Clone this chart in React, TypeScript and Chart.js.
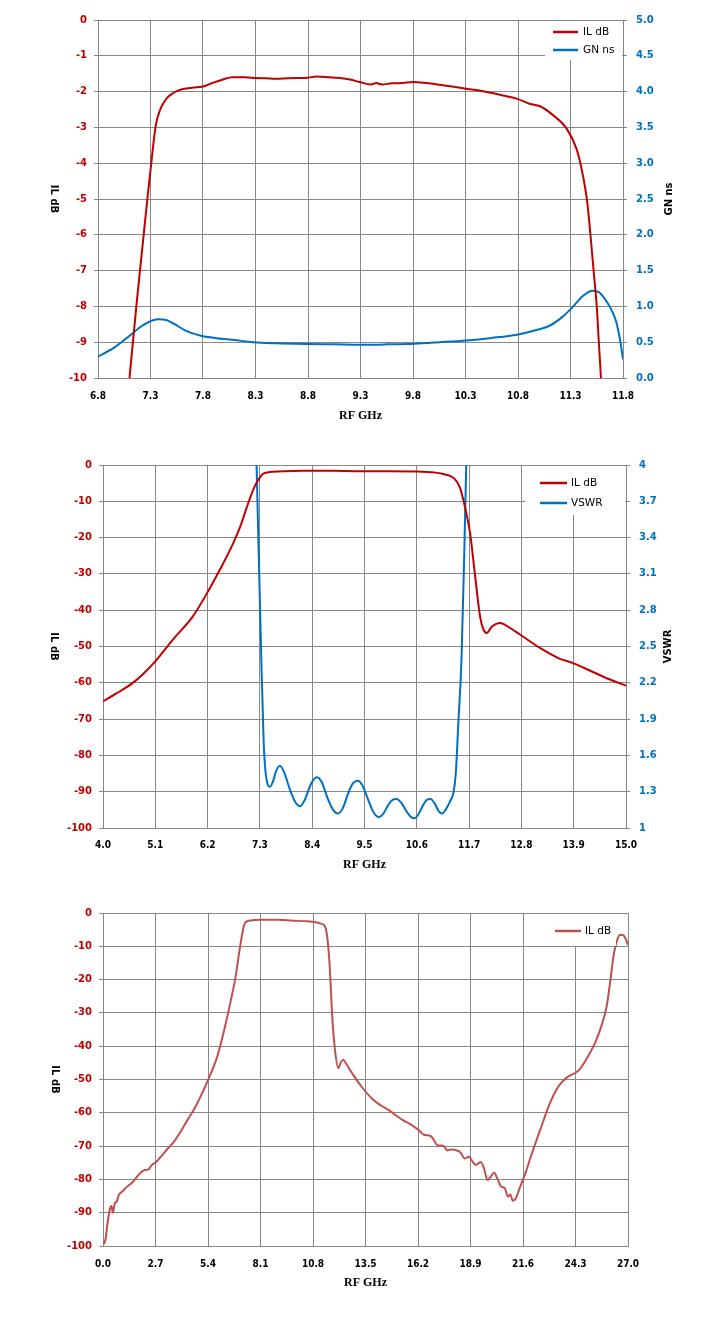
import React, { useEffect, useRef } from 'react';
import { Chart, ChartConfiguration, Plugin, registerables } from 'chart.js';
Chart.register(...registerables);

// ---- chart 1: passband IL and group delay ----
const il1Freq = [7.1, 7.165, 7.235, 7.27, 7.3, 7.322, 7.34, 7.357, 7.375, 7.4, 7.43, 7.46, 7.5, 7.54, 7.61, 7.7, 7.8, 7.89, 7.99, 8.08, 8.2, 8.3, 8.4, 8.5, 8.6, 8.7, 8.8, 8.88, 9.0, 9.1, 9.2, 9.29, 9.4, 9.45, 9.5, 9.6, 9.7, 9.8, 9.9, 10.0, 10.1, 10.2, 10.3, 10.43, 10.63, 10.8, 10.91, 11.01, 11.13, 11.26, 11.36, 11.42, 11.46, 11.49, 11.52, 11.55, 11.57, 11.59];
const il1Db = [-10, -8, -6, -5, -4.2, -3.6, -3.15, -2.85, -2.65, -2.45, -2.29, -2.17, -2.07, -2.0, -1.93, -1.89, -1.86, -1.76, -1.66, -1.6, -1.6, -1.62, -1.63, -1.64, -1.63, -1.62, -1.61, -1.58, -1.6, -1.62, -1.66, -1.73, -1.8, -1.76, -1.8, -1.77, -1.76, -1.73, -1.75, -1.79, -1.83, -1.87, -1.92, -1.97, -2.09, -2.21, -2.34, -2.41, -2.65, -3.02, -3.62, -4.37, -5.1, -6.0, -7.0, -8.0, -9.0, -10];
const gn1Freq = [6.8, 6.95, 7.11, 7.22, 7.37, 7.45, 7.52, 7.65, 7.78, 7.91, 8.1, 8.28, 8.5, 8.79, 9.05, 9.31, 9.55, 9.81, 10.05, 10.31, 10.55, 10.79, 10.95, 11.1, 11.22, 11.32, 11.42, 11.51, 11.57, 11.62, 11.68, 11.73, 11.77, 11.8];
const gn1Ns = [0.3, 0.42, 0.6, 0.73, 0.82, 0.81, 0.76, 0.65, 0.59, 0.56, 0.53, 0.5, 0.485, 0.475, 0.47, 0.465, 0.47, 0.48, 0.5, 0.525, 0.56, 0.605, 0.66, 0.73, 0.85, 0.99, 1.15, 1.22, 1.2, 1.12, 0.98, 0.81, 0.55, 0.26];

// ---- chart 2: IL and VSWR 4-15 GHz ----
const il2Freq = [4.0, 4.3, 4.62, 4.85, 5.1, 5.47, 5.89, 6.21, 6.46, 6.74, 6.9, 7.02, 7.19, 7.3, 7.37, 7.48, 7.58, 7.8, 8.2, 8.8, 9.3, 9.8, 10.6, 11.0, 11.16, 11.3, 11.4, 11.51, 11.61, 11.72, 11.82, 11.93, 12.0, 12.07, 12.18, 12.35, 12.55, 12.77, 13.19, 13.61, 13.87, 14.35, 14.7, 15.0];
const il2Db = [-65.1, -62.8, -60.1, -57.5, -54.1, -48.1, -41.7, -34.8, -28.8, -21.5, -16.5, -11.8, -5.9, -3.4, -2.4, -2.0, -1.85, -1.7, -1.6, -1.6, -1.7, -1.75, -1.8, -2.1, -2.5, -3.0, -3.9, -6.3, -11.4, -18.7, -29.8, -41.7, -45.3, -46.3, -44.5, -43.5, -44.8, -46.7, -50.4, -53.4, -54.5, -57.3, -59.3, -60.8];
const vswrFreq = [7.2, 7.23, 7.33, 7.38, 7.41, 7.45, 7.51, 7.57, 7.64, 7.72, 7.8, 7.93, 8.05, 8.14, 8.24, 8.37, 8.49, 8.6, 8.72, 8.84, 8.94, 9.04, 9.16, 9.26, 9.36, 9.46, 9.58, 9.69, 9.8, 9.9, 10.0, 10.08, 10.17, 10.27, 10.38, 10.48, 10.55, 10.63, 10.72, 10.8, 10.89, 10.98, 11.06, 11.13, 11.22, 11.3, 11.37, 11.42, 11.47, 11.54, 11.6, 11.64, 11.68];
const vswrVal = [4.5, 4.0, 2.39, 1.7, 1.5, 1.38, 1.34, 1.38, 1.47, 1.515, 1.47, 1.32, 1.21, 1.18, 1.23, 1.36, 1.42, 1.38, 1.25, 1.15, 1.12, 1.16, 1.29, 1.37, 1.39, 1.35, 1.23, 1.13, 1.09, 1.12, 1.19, 1.23, 1.24, 1.21, 1.14, 1.09, 1.08, 1.11, 1.18, 1.23, 1.24, 1.2, 1.14, 1.12, 1.16, 1.22, 1.29, 1.45, 1.84, 2.39, 3.3, 4.0, 4.5];

// ---- chart 3: IL wideband 0-27 GHz ----
const il3Freq = [0.04, 0.14, 0.21, 0.34, 0.43, 0.51, 0.6, 0.72, 0.81, 1.0, 1.2, 1.54, 1.89, 2.15, 2.35, 2.49, 2.75, 3.0, 3.26, 3.64, 4.0, 4.34, 4.7, 4.93, 5.4, 5.87, 6.23, 6.58, 6.82, 7.05, 7.29, 7.52, 8.11, 9.0, 9.76, 10.5, 10.94, 11.2, 11.36, 11.45, 11.53, 11.65, 11.79, 11.93, 12.11, 12.22, 12.35, 12.5, 12.7, 13.29, 13.88, 14.3, 14.7, 15.0, 15.42, 15.8, 16.24, 16.5, 16.83, 17.0, 17.18, 17.5, 17.7, 17.89, 18.24, 18.4, 18.59, 18.83, 19.0, 19.18, 19.3, 19.42, 19.6, 19.77, 19.9, 20.12, 20.3, 20.48, 20.65, 20.83, 20.95, 21.07, 21.25, 21.42, 21.72, 22.0, 22.48, 22.96, 23.3, 23.6, 23.9, 24.48, 24.9, 25.3, 25.6, 25.9, 26.1, 26.25, 26.45, 26.6, 26.77, 26.9, 27.0];
const il3Db = [-99.5, -97.7, -94.2, -89.2, -88.0, -90.0, -87.3, -86.5, -84.7, -83.6, -82.4, -80.7, -78.2, -77.2, -77.0, -75.8, -74.7, -73.0, -71.2, -68.7, -65.6, -62.2, -58.8, -56.2, -50.2, -43.2, -35.2, -26.1, -19.1, -10.1, -3.1, -2.3, -2.0, -2.05, -2.3, -2.5, -2.8, -3.2, -3.6, -4.6, -7.1, -15.1, -31.1, -41.1, -46.6, -45.0, -44.1, -45.2, -47.1, -52.1, -56.0, -57.8, -59.2, -60.5, -62.2, -63.4, -65.2, -66.6, -66.9, -68.0, -69.7, -69.9, -71.3, -71.0, -71.4, -72.0, -73.7, -73.2, -74.6, -75.7, -75.2, -74.8, -76.8, -80.2, -79.5, -78.0, -80.0, -82.2, -82.5, -85.2, -84.5, -86.4, -85.5, -82.7, -78.2, -73.2, -65.2, -57.5, -53.2, -50.8, -49.2, -47.2, -43.5, -39.1, -34.5, -28.1, -20.0, -13.1, -8.0, -6.5, -6.7, -8.0, -9.6];

const RED = '#C00000';
const BLUE = '#0070C0';
const RED3 = '#C0504D';
const GRID = '#878787';
const W = 718;

const pts = (xs: number[], ys: number[]) => xs.map((x, i) => ({ x, y: ys[i] }));
const yTickFont = { family: 'DejaVu Sans', size: 10, weight: 'bold' as const };
const xTickFont = { family: "'DejaVu Sans Condensed', 'DejaVu Sans'", size: 10, weight: 'bold' as const };
const fix1 = (v: any) => Number(v).toFixed(1);

type DecorOpts = {
  leftX: number;
  rightTitle?: string;
  rightX?: number;
  xTitleY: number;
  box: [number, number, number, number];
  lineX: [number, number];
  textX: number;
  rowsY: number[];
};

// axis titles and the legend box, drawn the way the spreadsheet draws them
const decor = (o: DecorOpts): Plugin<'line'> => ({
  id: 'decor',
  afterDraw(chart) {
    const { ctx, chartArea } = chart;
    const midY = (chartArea.top + chartArea.bottom) / 2;
    ctx.save();
    ctx.fillStyle = '#000';
    ctx.textAlign = 'center';
    ctx.textBaseline = 'middle';
    ctx.font = 'bold 10px "DejaVu Sans"';
    ctx.save();
    ctx.translate(o.leftX, midY);
    ctx.rotate(Math.PI / 2);
    ctx.fillText('IL dB', 0, 0);
    ctx.restore();
    if (o.rightTitle && o.rightX) {
      ctx.save();
      ctx.translate(o.rightX, midY);
      ctx.rotate(-Math.PI / 2);
      ctx.fillText(o.rightTitle, 0, 0);
      ctx.restore();
    }
    ctx.font = 'bold 12px "Liberation Serif"';
    ctx.fillText('RF GHz', (chartArea.left + chartArea.right) / 2, o.xTitleY);

    const [bx, by, bw, bh] = o.box;
    ctx.fillStyle = '#fff';
    ctx.fillRect(bx, by, bw, bh);
    ctx.font = '10.5px "DejaVu Sans"';
    ctx.textAlign = 'left';
    chart.data.datasets.forEach((ds, i) => {
      const y = o.rowsY[i];
      ctx.strokeStyle = ds.borderColor as string;
      ctx.lineWidth = 2.5;
      ctx.beginPath();
      ctx.moveTo(o.lineX[0], y);
      ctx.lineTo(o.lineX[1], y);
      ctx.stroke();
      ctx.fillStyle = '#000';
      ctx.fillText(ds.label as string, o.textX, y);
    });
    ctx.restore();
  },
});

const lineDs = (label: string, data: { x: number; y: number }[], color: string, axis: string) => ({
  label,
  data,
  borderColor: color,
  backgroundColor: color,
  borderWidth: 2,
  pointRadius: 0,
  cubicInterpolationMode: 'monotone' as const,
  yAxisID: axis,
});

const xScale = (min: number, max: number, step: number, bottom: number, h: number, pad: number) => ({
  type: 'linear' as const,
  min,
  max,
  ticks: { stepSize: step, callback: fix1, font: xTickFont, color: '#000', padding: pad, maxRotation: 0, autoSkip: false },
  grid: { color: GRID, drawTicks: false },
  border: { color: GRID },
  afterFit: (s: any) => { s.height = h - bottom; },
});

const leftScale = (min: number, max: number, step: number, left: number) => ({
  type: 'linear' as const,
  position: 'left' as const,
  min,
  max,
  ticks: { stepSize: step, font: yTickFont, color: RED, padding: 7 },
  grid: { color: GRID, tickLength: 4 },
  border: { color: GRID },
  afterFit: (s: any) => { s.width = left; },
});

const rightScale = (min: number, max: number, step: number, right: number, fmt: (v: any) => string) => ({
  type: 'linear' as const,
  position: 'right' as const,
  min,
  max,
  ticks: { stepSize: step, font: yTickFont, color: BLUE, padding: 9, callback: fmt },
  grid: { color: GRID, tickLength: 4, drawOnChartArea: false },
  border: { color: GRID },
  afterFit: (s: any) => { s.width = W - right; },
});

const common = (top: number, rightPad: number) => ({
  responsive: false,
  animation: false as const,
  layout: { padding: { top, left: 0, right: rightPad, bottom: 0 } },
  plugins: { legend: { display: false }, tooltip: { enabled: false } },
});

const config1: ChartConfiguration<'line'> = {
  type: 'line',
  data: {
    datasets: [
      lineDs('IL dB', pts(il1Freq, il1Db), RED, 'y'),
      lineDs('GN ns', pts(gn1Freq, gn1Ns), BLUE, 'y1'),
    ],
  },
  options: {
    ...common(20, 0),
    scales: {
      x: xScale(6.8, 11.8, 0.5, 378, 440, 12),
      y: leftScale(-10, 0, 1, 98),
      y1: rightScale(0, 5, 0.5, 623, fix1),
    },
  },
  plugins: [decor({ leftX: 54, rightTitle: 'GN ns', rightX: 669, xTitleY: 416, box: [545, 21, 77, 39], lineX: [553, 578], textX: 583, rowsY: [32, 50] })],
};

const config2: ChartConfiguration<'line'> = {
  type: 'line',
  data: {
    datasets: [
      lineDs('IL dB', pts(il2Freq, il2Db), RED, 'y'),
      lineDs('VSWR', pts(vswrFreq, vswrVal), BLUE, 'y1'),
    ],
  },
  options: {
    ...common(25, 0),
    scales: {
      x: xScale(4, 15, 1.1, 388, 440, 11),
      y: leftScale(-100, 0, 10, 103),
      y1: rightScale(1, 4, 0.3, 626, (v: any) => String(Math.round(Number(v) * 10) / 10)),
    },
  },
  plugins: [decor({ leftX: 54, rightTitle: 'VSWR', rightX: 668, xTitleY: 425, box: [525, 26, 100, 49], lineX: [540, 567], textX: 571, rowsY: [43, 63] })],
};

const config3: ChartConfiguration<'line'> = {
  type: 'line',
  data: {
    datasets: [lineDs('IL dB', pts(il3Freq, il3Db), RED3, 'y')],
  },
  options: {
    ...common(33, W - 628),
    scales: {
      x: xScale(0, 27, 2.7, 366, 452, 12),
      y: leftScale(-100, 0, 10, 103),
    },
  },
  plugins: [decor({ leftX: 55, xTitleY: 403, box: [548, 34, 68, 32], lineX: [555, 581], textX: 585, rowsY: [51] })],
};

const Panel: React.FC<{ config: ChartConfiguration<'line'>; height: number }> = ({ config, height }) => {
  const canvasRef = useRef<HTMLCanvasElement>(null);

  useEffect(() => {
    if (!canvasRef.current) return;
    const chart = new Chart(canvasRef.current, config);
    return () => chart.destroy();
  }, [config]);

  return <canvas ref={canvasRef} width={W} height={height} style={{ display: 'block', width: W, height }} />;
};

const App: React.FC = () => (
  <div style={{ position: 'absolute', left: 0, top: 0, width: W, height: 1332, background: '#fff' }}>
    <Panel config={config1} height={440} />
    <Panel config={config2} height={440} />
    <Panel config={config3} height={452} />
  </div>
);

export default App;
